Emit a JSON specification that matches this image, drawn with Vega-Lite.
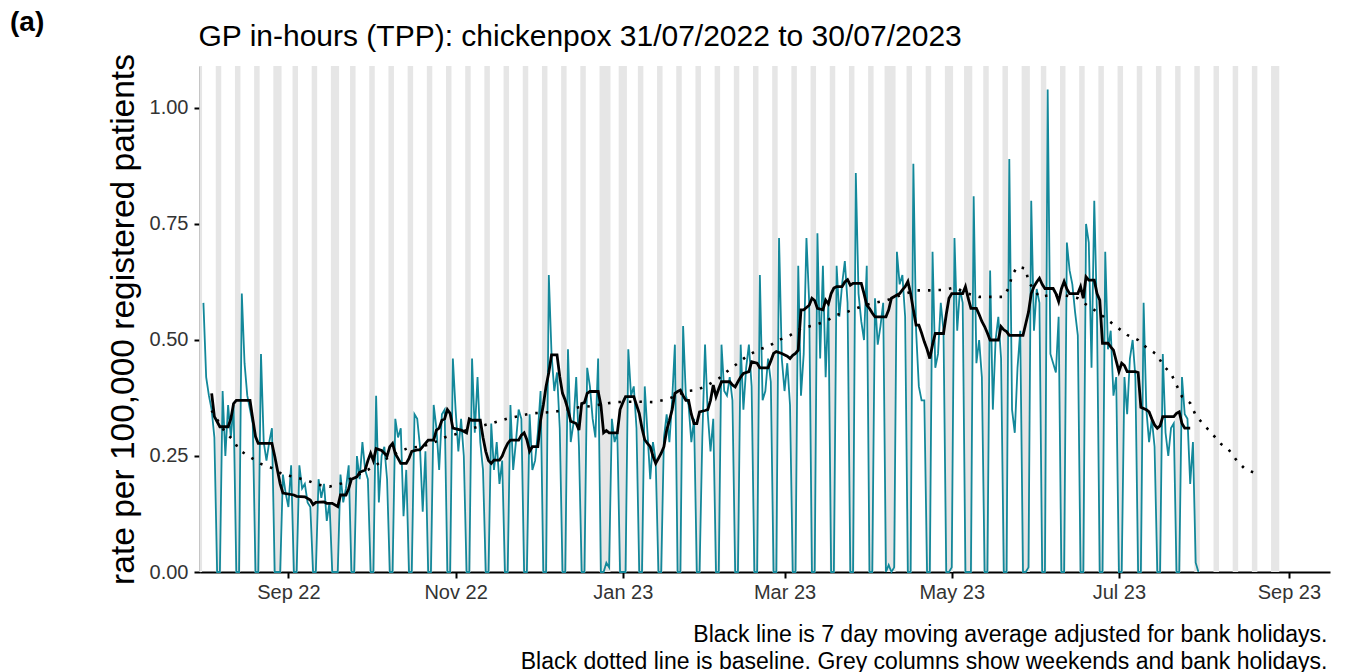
{
"$schema": "https://vega.github.io/schema/vega-lite/v6.json",
"width": 1130, "height": 506,
"autosize": {"type": "none"},
"padding": {"left": 200, "top": 66, "right": 37, "bottom": 100},
"background": "white",
"config": {"font": "Liberation Sans", "view": {"stroke": null}, "axis": {"grid": false},
"axisY": {"titleFontSize": 33.5, "titleFontWeight": "normal", "titleColor": "#000000", "titlePadding": 9, "labelFontSize": 20, "labelColor": "#333333", "labelPadding": 6, "tickSize": 6, "tickWidth": 2, "tickColor": "#000000", "domainColor": "#000000", "domainWidth": 2, "grid": false}},
"title": {"text": "(a)", "anchor": "start", "frame": "group", "dx": -190, "dy": 20, "fontSize": 28, "fontWeight": "bold", "color": "#000000"},
"datasets": {
"daily": [
{"date":"2022-08-01","rate":0.58},{"date":"2022-08-02","rate":0.42},{"date":"2022-08-03","rate":0.38},{"date":"2022-08-04","rate":0.35},{"date":"2022-08-05","rate":0.29},{"date":"2022-08-06","rate":0},{"date":"2022-08-07","rate":0},
{"date":"2022-08-08","rate":0.39},{"date":"2022-08-09","rate":0.25},{"date":"2022-08-10","rate":0.36},{"date":"2022-08-11","rate":0.29},{"date":"2022-08-12","rate":0.36},{"date":"2022-08-13","rate":0},{"date":"2022-08-14","rate":0},
{"date":"2022-08-15","rate":0.60},{"date":"2022-08-16","rate":0.45},{"date":"2022-08-17","rate":0.38},{"date":"2022-08-18","rate":0.35},{"date":"2022-08-19","rate":0.32},{"date":"2022-08-20","rate":0},{"date":"2022-08-21","rate":0},
{"date":"2022-08-22","rate":0.47},{"date":"2022-08-23","rate":0.28},{"date":"2022-08-24","rate":0.24},{"date":"2022-08-25","rate":0.28},{"date":"2022-08-26","rate":0.31},{"date":"2022-08-27","rate":0},{"date":"2022-08-28","rate":0},
{"date":"2022-08-29","rate":0},{"date":"2022-08-30","rate":0.21},{"date":"2022-08-31","rate":0.17},{"date":"2022-09-01","rate":0.14},{"date":"2022-09-02","rate":0.23},{"date":"2022-09-03","rate":0},{"date":"2022-09-04","rate":0},
{"date":"2022-09-05","rate":0.23},{"date":"2022-09-06","rate":0.18},{"date":"2022-09-07","rate":0.19},{"date":"2022-09-08","rate":0.15},{"date":"2022-09-09","rate":0.14},{"date":"2022-09-10","rate":0},{"date":"2022-09-11","rate":0},
{"date":"2022-09-12","rate":0.20},{"date":"2022-09-13","rate":0.16},{"date":"2022-09-14","rate":0.19},{"date":"2022-09-15","rate":0.11},{"date":"2022-09-16","rate":0.15},{"date":"2022-09-17","rate":0},{"date":"2022-09-18","rate":0},
{"date":"2022-09-19","rate":0},{"date":"2022-09-20","rate":0.21},{"date":"2022-09-21","rate":0.15},{"date":"2022-09-22","rate":0.18},{"date":"2022-09-23","rate":0.23},{"date":"2022-09-24","rate":0},{"date":"2022-09-25","rate":0},
{"date":"2022-09-26","rate":0.25},{"date":"2022-09-27","rate":0.20},{"date":"2022-09-28","rate":0.28},{"date":"2022-09-29","rate":0.22},{"date":"2022-09-30","rate":0.20},{"date":"2022-10-01","rate":0},{"date":"2022-10-02","rate":0},
{"date":"2022-10-03","rate":0.38},{"date":"2022-10-04","rate":0.15},{"date":"2022-10-05","rate":0.25},{"date":"2022-10-06","rate":0.27},{"date":"2022-10-07","rate":0.20},{"date":"2022-10-08","rate":0},{"date":"2022-10-09","rate":0},
{"date":"2022-10-10","rate":0.33},{"date":"2022-10-11","rate":0.29},{"date":"2022-10-12","rate":0.31},{"date":"2022-10-13","rate":0.12},{"date":"2022-10-14","rate":0.22},{"date":"2022-10-15","rate":0},{"date":"2022-10-16","rate":0},
{"date":"2022-10-17","rate":0.34},{"date":"2022-10-18","rate":0.33},{"date":"2022-10-19","rate":0.27},{"date":"2022-10-20","rate":0.13},{"date":"2022-10-21","rate":0.26},{"date":"2022-10-22","rate":0},{"date":"2022-10-23","rate":0},
{"date":"2022-10-24","rate":0.36},{"date":"2022-10-25","rate":0.31},{"date":"2022-10-26","rate":0.22},{"date":"2022-10-27","rate":0.34},{"date":"2022-10-28","rate":0.35},{"date":"2022-10-29","rate":0},{"date":"2022-10-30","rate":0},
{"date":"2022-10-31","rate":0.46},{"date":"2022-11-01","rate":0.35},{"date":"2022-11-02","rate":0.26},{"date":"2022-11-03","rate":0.33},{"date":"2022-11-04","rate":0.25},{"date":"2022-11-05","rate":0},{"date":"2022-11-06","rate":0},
{"date":"2022-11-07","rate":0.46},{"date":"2022-11-08","rate":0.30},{"date":"2022-11-09","rate":0.42},{"date":"2022-11-10","rate":0.28},{"date":"2022-11-11","rate":0.22},{"date":"2022-11-12","rate":0},{"date":"2022-11-13","rate":0},
{"date":"2022-11-14","rate":0.32},{"date":"2022-11-15","rate":0.22},{"date":"2022-11-16","rate":0.28},{"date":"2022-11-17","rate":0.19},{"date":"2022-11-18","rate":0.24},{"date":"2022-11-19","rate":0},{"date":"2022-11-20","rate":0},
{"date":"2022-11-21","rate":0.36},{"date":"2022-11-22","rate":0.22},{"date":"2022-11-23","rate":0.28},{"date":"2022-11-24","rate":0.35},{"date":"2022-11-25","rate":0.33},{"date":"2022-11-26","rate":0},{"date":"2022-11-27","rate":0},
{"date":"2022-11-28","rate":0.34},{"date":"2022-11-29","rate":0.22},{"date":"2022-11-30","rate":0.24},{"date":"2022-12-01","rate":0.30},{"date":"2022-12-02","rate":0.39},{"date":"2022-12-03","rate":0},{"date":"2022-12-04","rate":0},
{"date":"2022-12-05","rate":0.64},{"date":"2022-12-06","rate":0.47},{"date":"2022-12-07","rate":0.39},{"date":"2022-12-08","rate":0.43},{"date":"2022-12-09","rate":0.31},{"date":"2022-12-10","rate":0},{"date":"2022-12-11","rate":0},
{"date":"2022-12-12","rate":0.48},{"date":"2022-12-13","rate":0.28},{"date":"2022-12-14","rate":0.32},{"date":"2022-12-15","rate":0.42},{"date":"2022-12-16","rate":0.27},{"date":"2022-12-17","rate":0},{"date":"2022-12-18","rate":0},
{"date":"2022-12-19","rate":0.44},{"date":"2022-12-20","rate":0.40},{"date":"2022-12-21","rate":0.33},{"date":"2022-12-22","rate":0.29},{"date":"2022-12-23","rate":0.46},{"date":"2022-12-24","rate":0},{"date":"2022-12-25","rate":0},
{"date":"2022-12-26","rate":0.02},{"date":"2022-12-27","rate":0.01},{"date":"2022-12-28","rate":0.33},{"date":"2022-12-29","rate":0.28},{"date":"2022-12-30","rate":0.30},{"date":"2022-12-31","rate":0},{"date":"2023-01-01","rate":0},
{"date":"2023-01-02","rate":0},{"date":"2023-01-03","rate":0.48},{"date":"2023-01-04","rate":0.38},{"date":"2023-01-05","rate":0.40},{"date":"2023-01-06","rate":0.31},{"date":"2023-01-07","rate":0},{"date":"2023-01-08","rate":0},
{"date":"2023-01-09","rate":0.40},{"date":"2023-01-10","rate":0.30},{"date":"2023-01-11","rate":0.20},{"date":"2023-01-12","rate":0.28},{"date":"2023-01-13","rate":0.24},{"date":"2023-01-14","rate":0},{"date":"2023-01-15","rate":0},
{"date":"2023-01-16","rate":0.29},{"date":"2023-01-17","rate":0.34},{"date":"2023-01-18","rate":0.28},{"date":"2023-01-19","rate":0.37},{"date":"2023-01-20","rate":0.49},{"date":"2023-01-21","rate":0},{"date":"2023-01-22","rate":0},
{"date":"2023-01-23","rate":0.53},{"date":"2023-01-24","rate":0.38},{"date":"2023-01-25","rate":0.36},{"date":"2023-01-26","rate":0.28},{"date":"2023-01-27","rate":0.33},{"date":"2023-01-28","rate":0},{"date":"2023-01-29","rate":0},
{"date":"2023-01-30","rate":0.29},{"date":"2023-01-31","rate":0.49},{"date":"2023-02-01","rate":0.34},{"date":"2023-02-02","rate":0.26},{"date":"2023-02-03","rate":0.33},{"date":"2023-02-04","rate":0},{"date":"2023-02-05","rate":0},
{"date":"2023-02-06","rate":0.49},{"date":"2023-02-07","rate":0.39},{"date":"2023-02-08","rate":0.38},{"date":"2023-02-09","rate":0.42},{"date":"2023-02-10","rate":0.37},{"date":"2023-02-11","rate":0},{"date":"2023-02-12","rate":0},
{"date":"2023-02-13","rate":0.49},{"date":"2023-02-14","rate":0.35},{"date":"2023-02-15","rate":0.44},{"date":"2023-02-16","rate":0.49},{"date":"2023-02-17","rate":0.40},{"date":"2023-02-18","rate":0},{"date":"2023-02-19","rate":0},
{"date":"2023-02-20","rate":0.64},{"date":"2023-02-21","rate":0.37},{"date":"2023-02-22","rate":0.39},{"date":"2023-02-23","rate":0.46},{"date":"2023-02-24","rate":0.41},{"date":"2023-02-25","rate":0},{"date":"2023-02-26","rate":0},
{"date":"2023-02-27","rate":0.72},{"date":"2023-02-28","rate":0.46},{"date":"2023-03-01","rate":0.39},{"date":"2023-03-02","rate":0.45},{"date":"2023-03-03","rate":0.36},{"date":"2023-03-04","rate":0},{"date":"2023-03-05","rate":0},
{"date":"2023-03-06","rate":0.66},{"date":"2023-03-07","rate":0.38},{"date":"2023-03-08","rate":0.47},{"date":"2023-03-09","rate":0.72},{"date":"2023-03-10","rate":0.58},{"date":"2023-03-11","rate":0},{"date":"2023-03-12","rate":0},
{"date":"2023-03-13","rate":0.73},{"date":"2023-03-14","rate":0.46},{"date":"2023-03-15","rate":0.66},{"date":"2023-03-16","rate":0.42},{"date":"2023-03-17","rate":0.58},{"date":"2023-03-18","rate":0},{"date":"2023-03-19","rate":0},
{"date":"2023-03-20","rate":0.66},{"date":"2023-03-21","rate":0.55},{"date":"2023-03-22","rate":0.62},{"date":"2023-03-23","rate":0.67},{"date":"2023-03-24","rate":0.58},{"date":"2023-03-25","rate":0},{"date":"2023-03-26","rate":0},
{"date":"2023-03-27","rate":0.86},{"date":"2023-03-28","rate":0.60},{"date":"2023-03-29","rate":0.54},{"date":"2023-03-30","rate":0.50},{"date":"2023-03-31","rate":0.66},{"date":"2023-04-01","rate":0},{"date":"2023-04-02","rate":0},
{"date":"2023-04-03","rate":0.59},{"date":"2023-04-04","rate":0.49},{"date":"2023-04-05","rate":0.53},{"date":"2023-04-06","rate":0.58},{"date":"2023-04-07","rate":0},{"date":"2023-04-08","rate":0.015},{"date":"2023-04-09","rate":0},
{"date":"2023-04-10","rate":0.01},{"date":"2023-04-11","rate":0.69},{"date":"2023-04-12","rate":0.62},{"date":"2023-04-13","rate":0.64},{"date":"2023-04-14","rate":0.55},{"date":"2023-04-15","rate":0},{"date":"2023-04-16","rate":0},
{"date":"2023-04-17","rate":0.88},{"date":"2023-04-18","rate":0.52},{"date":"2023-04-19","rate":0.40},{"date":"2023-04-20","rate":0.37},{"date":"2023-04-21","rate":0.37},{"date":"2023-04-22","rate":0},{"date":"2023-04-23","rate":0},
{"date":"2023-04-24","rate":0.69},{"date":"2023-04-25","rate":0.44},{"date":"2023-04-26","rate":0.47},{"date":"2023-04-27","rate":0.58},{"date":"2023-04-28","rate":0.52},{"date":"2023-04-29","rate":0},{"date":"2023-04-30","rate":0},
{"date":"2023-05-01","rate":0.01},{"date":"2023-05-02","rate":0.72},{"date":"2023-05-03","rate":0.52},{"date":"2023-05-04","rate":0.61},{"date":"2023-05-05","rate":0.58},{"date":"2023-05-06","rate":0},{"date":"2023-05-07","rate":0},
{"date":"2023-05-08","rate":0},{"date":"2023-05-09","rate":0.81},{"date":"2023-05-10","rate":0.45},{"date":"2023-05-11","rate":0.50},{"date":"2023-05-12","rate":0.42},{"date":"2023-05-13","rate":0},{"date":"2023-05-14","rate":0},
{"date":"2023-05-15","rate":0.65},{"date":"2023-05-16","rate":0.35},{"date":"2023-05-17","rate":0.50},{"date":"2023-05-18","rate":0.55},{"date":"2023-05-19","rate":0.46},{"date":"2023-05-20","rate":0},{"date":"2023-05-21","rate":0},
{"date":"2023-05-22","rate":0.89},{"date":"2023-05-23","rate":0.35},{"date":"2023-05-24","rate":0.30},{"date":"2023-05-25","rate":0.44},{"date":"2023-05-26","rate":0.52},{"date":"2023-05-27","rate":0},{"date":"2023-05-28","rate":0},
{"date":"2023-05-29","rate":0.01},{"date":"2023-05-30","rate":0.80},{"date":"2023-05-31","rate":0.52},{"date":"2023-06-01","rate":0.61},{"date":"2023-06-02","rate":0.58},{"date":"2023-06-03","rate":0},{"date":"2023-06-04","rate":0},
{"date":"2023-06-05","rate":1.04},{"date":"2023-06-06","rate":0.47},{"date":"2023-06-07","rate":0.45},{"date":"2023-06-08","rate":0.43},{"date":"2023-06-09","rate":0.55},{"date":"2023-06-10","rate":0},{"date":"2023-06-11","rate":0},
{"date":"2023-06-12","rate":0.71},{"date":"2023-06-13","rate":0.65},{"date":"2023-06-14","rate":0.62},{"date":"2023-06-15","rate":0.56},{"date":"2023-06-16","rate":0.51},{"date":"2023-06-17","rate":0},{"date":"2023-06-18","rate":0},
{"date":"2023-06-19","rate":0.75},{"date":"2023-06-20","rate":0.71},{"date":"2023-06-21","rate":0.44},{"date":"2023-06-22","rate":0.80},{"date":"2023-06-23","rate":0.55},{"date":"2023-06-24","rate":0},{"date":"2023-06-25","rate":0},
{"date":"2023-06-26","rate":0.69},{"date":"2023-06-27","rate":0.48},{"date":"2023-06-28","rate":0.52},{"date":"2023-06-29","rate":0.38},{"date":"2023-06-30","rate":0.42},{"date":"2023-07-01","rate":0},{"date":"2023-07-02","rate":0},
{"date":"2023-07-03","rate":0.42},{"date":"2023-07-04","rate":0.34},{"date":"2023-07-05","rate":0.46},{"date":"2023-07-06","rate":0.50},{"date":"2023-07-07","rate":0.42},{"date":"2023-07-08","rate":0},{"date":"2023-07-09","rate":0},
{"date":"2023-07-10","rate":0.58},{"date":"2023-07-11","rate":0.35},{"date":"2023-07-12","rate":0.28},{"date":"2023-07-13","rate":0.33},{"date":"2023-07-14","rate":0.27},{"date":"2023-07-15","rate":0},{"date":"2023-07-16","rate":0},
{"date":"2023-07-17","rate":0.47},{"date":"2023-07-18","rate":0.30},{"date":"2023-07-19","rate":0.25},{"date":"2023-07-20","rate":0.31},{"date":"2023-07-21","rate":0.32},{"date":"2023-07-22","rate":0},{"date":"2023-07-23","rate":0},
{"date":"2023-07-24","rate":0.42},{"date":"2023-07-25","rate":0.34},{"date":"2023-07-26","rate":0.33},{"date":"2023-07-27","rate":0.19},{"date":"2023-07-28","rate":0.28},{"date":"2023-07-29","rate":0.02},{"date":"2023-07-30","rate":0}
],
"ma": [
{"date":"2022-08-04","ma":0.385},{"date":"2022-08-05","ma":0.335},{"date":"2022-08-07","ma":0.313},{"date":"2022-08-10","ma":0.313},{"date":"2022-08-11","ma":0.33},{"date":"2022-08-12","ma":0.363},{"date":"2022-08-13","ma":0.37},{"date":"2022-08-18","ma":0.37},{"date":"2022-08-19","ma":0.33},{"date":"2022-08-20","ma":0.292},{"date":"2022-08-21","ma":0.277},{"date":"2022-08-26","ma":0.277},{"date":"2022-08-27","ma":0.25},{"date":"2022-08-28","ma":0.22},{"date":"2022-08-29","ma":0.19},{"date":"2022-08-30","ma":0.17},
{"date":"2022-09-03","ma":0.166},{"date":"2022-09-04","ma":0.163},{"date":"2022-09-07","ma":0.162},{"date":"2022-09-09","ma":0.155},{"date":"2022-09-10","ma":0.145},{"date":"2022-09-11","ma":0.15},{"date":"2022-09-14","ma":0.151},{"date":"2022-09-15","ma":0.148},{"date":"2022-09-17","ma":0.148},{"date":"2022-09-19","ma":0.141},{"date":"2022-09-20","ma":0.166},{"date":"2022-09-22","ma":0.166},{"date":"2022-09-23","ma":0.18},{"date":"2022-09-24","ma":0.2},{"date":"2022-09-26","ma":0.205},{"date":"2022-09-27","ma":0.215},{"date":"2022-09-29","ma":0.22},{"date":"2022-09-30","ma":0.24},
{"date":"2022-10-01","ma":0.256},{"date":"2022-10-02","ma":0.24},{"date":"2022-10-03","ma":0.266},{"date":"2022-10-05","ma":0.262},{"date":"2022-10-07","ma":0.25},{"date":"2022-10-08","ma":0.27},{"date":"2022-10-09","ma":0.277},{"date":"2022-10-10","ma":0.255},{"date":"2022-10-11","ma":0.245},{"date":"2022-10-12","ma":0.234},{"date":"2022-10-14","ma":0.234},{"date":"2022-10-15","ma":0.245},{"date":"2022-10-16","ma":0.26},{"date":"2022-10-18","ma":0.263},{"date":"2022-10-19","ma":0.263},{"date":"2022-10-20","ma":0.27},{"date":"2022-10-21","ma":0.277},{"date":"2022-10-22","ma":0.284},{"date":"2022-10-24","ma":0.284},{"date":"2022-10-25","ma":0.306},{"date":"2022-10-26","ma":0.31},{"date":"2022-10-27","ma":0.327},{"date":"2022-10-28","ma":0.33},{"date":"2022-10-29","ma":0.35},{"date":"2022-10-30","ma":0.342},{"date":"2022-10-31","ma":0.31},
{"date":"2022-11-03","ma":0.306},{"date":"2022-11-05","ma":0.30},{"date":"2022-11-06","ma":0.33},{"date":"2022-11-07","ma":0.327},{"date":"2022-11-10","ma":0.327},{"date":"2022-11-11","ma":0.29},{"date":"2022-11-12","ma":0.26},{"date":"2022-11-13","ma":0.24},{"date":"2022-11-14","ma":0.234},{"date":"2022-11-15","ma":0.241},{"date":"2022-11-17","ma":0.241},{"date":"2022-11-18","ma":0.25},{"date":"2022-11-19","ma":0.265},{"date":"2022-11-20","ma":0.277},{"date":"2022-11-21","ma":0.284},{"date":"2022-11-24","ma":0.284},{"date":"2022-11-25","ma":0.295},{"date":"2022-11-26","ma":0.30},{"date":"2022-11-27","ma":0.285},{"date":"2022-11-28","ma":0.26},{"date":"2022-11-29","ma":0.27},
{"date":"2022-12-01","ma":0.27},{"date":"2022-12-02","ma":0.327},{"date":"2022-12-03","ma":0.36},{"date":"2022-12-04","ma":0.40},{"date":"2022-12-05","ma":0.43},{"date":"2022-12-06","ma":0.468},{"date":"2022-12-08","ma":0.468},{"date":"2022-12-09","ma":0.421},{"date":"2022-12-10","ma":0.385},{"date":"2022-12-11","ma":0.37},{"date":"2022-12-12","ma":0.35},{"date":"2022-12-13","ma":0.325},{"date":"2022-12-15","ma":0.32},{"date":"2022-12-16","ma":0.306},{"date":"2022-12-17","ma":0.363},{"date":"2022-12-18","ma":0.365},{"date":"2022-12-19","ma":0.385},{"date":"2022-12-20","ma":0.389},{"date":"2022-12-23","ma":0.389},{"date":"2022-12-24","ma":0.36},{"date":"2022-12-25","ma":0.30},{"date":"2022-12-26","ma":0.305},{"date":"2022-12-27","ma":0.30},{"date":"2022-12-30","ma":0.30},{"date":"2022-12-31","ma":0.35},
{"date":"2023-01-01","ma":0.365},{"date":"2023-01-02","ma":0.378},{"date":"2023-01-05","ma":0.378},{"date":"2023-01-06","ma":0.36},{"date":"2023-01-07","ma":0.342},{"date":"2023-01-08","ma":0.31},{"date":"2023-01-09","ma":0.285},{"date":"2023-01-10","ma":0.277},{"date":"2023-01-11","ma":0.27},{"date":"2023-01-12","ma":0.25},{"date":"2023-01-13","ma":0.234},{"date":"2023-01-14","ma":0.245},{"date":"2023-01-15","ma":0.256},{"date":"2023-01-16","ma":0.27},{"date":"2023-01-17","ma":0.306},{"date":"2023-01-18","ma":0.327},{"date":"2023-01-19","ma":0.35},{"date":"2023-01-20","ma":0.385},{"date":"2023-01-21","ma":0.389},{"date":"2023-01-22","ma":0.392},{"date":"2023-01-23","ma":0.38},{"date":"2023-01-24","ma":0.37},{"date":"2023-01-25","ma":0.37},{"date":"2023-01-26","ma":0.34},{"date":"2023-01-27","ma":0.32},{"date":"2023-01-28","ma":0.32},{"date":"2023-01-29","ma":0.345},{"date":"2023-01-31","ma":0.348},
{"date":"2023-02-01","ma":0.35},{"date":"2023-02-02","ma":0.37},{"date":"2023-02-03","ma":0.403},{"date":"2023-02-04","ma":0.378},{"date":"2023-02-05","ma":0.395},{"date":"2023-02-06","ma":0.41},{"date":"2023-02-09","ma":0.41},{"date":"2023-02-10","ma":0.403},{"date":"2023-02-11","ma":0.399},{"date":"2023-02-12","ma":0.41},{"date":"2023-02-13","ma":0.42},{"date":"2023-02-14","ma":0.428},{"date":"2023-02-16","ma":0.432},{"date":"2023-02-17","ma":0.453},{"date":"2023-02-19","ma":0.45},{"date":"2023-02-20","ma":0.44},{"date":"2023-02-23","ma":0.44},{"date":"2023-02-24","ma":0.455},{"date":"2023-02-25","ma":0.471},{"date":"2023-02-26","ma":0.475},{"date":"2023-02-28","ma":0.471},
{"date":"2023-03-02","ma":0.465},{"date":"2023-03-03","ma":0.46},{"date":"2023-03-04","ma":0.467},{"date":"2023-03-05","ma":0.471},{"date":"2023-03-06","ma":0.478},{"date":"2023-03-07","ma":0.565},{"date":"2023-03-08","ma":0.565},{"date":"2023-03-10","ma":0.575},{"date":"2023-03-11","ma":0.59},{"date":"2023-03-12","ma":0.585},{"date":"2023-03-13","ma":0.568},{"date":"2023-03-15","ma":0.565},{"date":"2023-03-16","ma":0.586},{"date":"2023-03-17","ma":0.578},{"date":"2023-03-18","ma":0.60},{"date":"2023-03-19","ma":0.612},{"date":"2023-03-20","ma":0.615},{"date":"2023-03-22","ma":0.615},{"date":"2023-03-23","ma":0.625},{"date":"2023-03-24","ma":0.63},{"date":"2023-03-25","ma":0.618},{"date":"2023-03-26","ma":0.622},{"date":"2023-03-29","ma":0.622},{"date":"2023-03-30","ma":0.60},{"date":"2023-03-31","ma":0.575},
{"date":"2023-04-01","ma":0.568},{"date":"2023-04-02","ma":0.558},{"date":"2023-04-03","ma":0.55},{"date":"2023-04-07","ma":0.55},{"date":"2023-04-08","ma":0.565},{"date":"2023-04-09","ma":0.59},{"date":"2023-04-11","ma":0.597},{"date":"2023-04-12","ma":0.60},{"date":"2023-04-13","ma":0.608},{"date":"2023-04-14","ma":0.615},{"date":"2023-04-15","ma":0.626},{"date":"2023-04-16","ma":0.60},{"date":"2023-04-17","ma":0.565},{"date":"2023-04-18","ma":0.532},{"date":"2023-04-19","ma":0.532},{"date":"2023-04-20","ma":0.515},{"date":"2023-04-21","ma":0.496},{"date":"2023-04-22","ma":0.48},{"date":"2023-04-23","ma":0.46},{"date":"2023-04-24","ma":0.49},{"date":"2023-04-25","ma":0.514},{"date":"2023-04-28","ma":0.514},{"date":"2023-04-29","ma":0.555},{"date":"2023-04-30","ma":0.59},
{"date":"2023-05-01","ma":0.60},{"date":"2023-05-05","ma":0.60},{"date":"2023-05-06","ma":0.615},{"date":"2023-05-07","ma":0.59},{"date":"2023-05-08","ma":0.568},{"date":"2023-05-10","ma":0.568},{"date":"2023-05-11","ma":0.555},{"date":"2023-05-12","ma":0.54},{"date":"2023-05-13","ma":0.529},{"date":"2023-05-14","ma":0.515},{"date":"2023-05-15","ma":0.50},{"date":"2023-05-18","ma":0.50},{"date":"2023-05-19","ma":0.529},{"date":"2023-05-20","ma":0.522},{"date":"2023-05-21","ma":0.518},{"date":"2023-05-22","ma":0.51},{"date":"2023-05-27","ma":0.51},{"date":"2023-05-28","ma":0.535},{"date":"2023-05-29","ma":0.56},{"date":"2023-05-30","ma":0.60},{"date":"2023-05-31","ma":0.615},
{"date":"2023-06-01","ma":0.625},{"date":"2023-06-02","ma":0.633},{"date":"2023-06-03","ma":0.62},{"date":"2023-06-04","ma":0.611},{"date":"2023-06-07","ma":0.611},{"date":"2023-06-08","ma":0.60},{"date":"2023-06-09","ma":0.583},{"date":"2023-06-10","ma":0.61},{"date":"2023-06-11","ma":0.626},{"date":"2023-06-12","ma":0.61},{"date":"2023-06-13","ma":0.60},{"date":"2023-06-16","ma":0.60},{"date":"2023-06-17","ma":0.615},{"date":"2023-06-18","ma":0.59},{"date":"2023-06-19","ma":0.636},{"date":"2023-06-20","ma":0.629},{"date":"2023-06-22","ma":0.629},{"date":"2023-06-23","ma":0.60},{"date":"2023-06-24","ma":0.586},{"date":"2023-06-25","ma":0.493},{"date":"2023-06-27","ma":0.493},{"date":"2023-06-28","ma":0.485},{"date":"2023-06-29","ma":0.478},{"date":"2023-06-30","ma":0.455},
{"date":"2023-07-01","ma":0.432},{"date":"2023-07-02","ma":0.45},{"date":"2023-07-03","ma":0.445},{"date":"2023-07-04","ma":0.432},{"date":"2023-07-07","ma":0.432},{"date":"2023-07-08","ma":0.43},{"date":"2023-07-09","ma":0.355},{"date":"2023-07-11","ma":0.35},{"date":"2023-07-12","ma":0.345},{"date":"2023-07-13","ma":0.33},{"date":"2023-07-14","ma":0.317},{"date":"2023-07-15","ma":0.31},{"date":"2023-07-16","ma":0.315},{"date":"2023-07-17","ma":0.335},{"date":"2023-07-21","ma":0.335},{"date":"2023-07-22","ma":0.342},{"date":"2023-07-23","ma":0.345},{"date":"2023-07-24","ma":0.32},{"date":"2023-07-25","ma":0.31},{"date":"2023-07-27","ma":0.31}
],
"baseline": [
{"date":"2022-08-04","baseline":0.348},{"date":"2022-08-09","baseline":0.30},{"date":"2022-08-12","baseline":0.284},{"date":"2022-08-14","baseline":0.263},{"date":"2022-08-18","baseline":0.248},{"date":"2022-08-22","baseline":0.233},{"date":"2022-08-26","baseline":0.224},{"date":"2022-08-30","baseline":0.21},{"date":"2022-09-03","baseline":0.205},{"date":"2022-09-08","baseline":0.197},{"date":"2022-09-12","baseline":0.188},{"date":"2022-09-16","baseline":0.184},{"date":"2022-09-20","baseline":0.19},{"date":"2022-09-25","baseline":0.205},{"date":"2022-09-30","baseline":0.22},
{"date":"2022-10-05","baseline":0.238},{"date":"2022-10-10","baseline":0.255},{"date":"2022-10-15","baseline":0.268},{"date":"2022-10-19","baseline":0.27},{"date":"2022-10-23","baseline":0.276},{"date":"2022-10-28","baseline":0.29},{"date":"2022-11-01","baseline":0.297},{"date":"2022-11-06","baseline":0.308},{"date":"2022-11-15","baseline":0.322},{"date":"2022-11-20","baseline":0.331},{"date":"2022-11-24","baseline":0.336},{"date":"2022-11-29","baseline":0.342},{"date":"2022-12-07","baseline":0.345},{"date":"2022-12-16","baseline":0.355},{"date":"2022-12-21","baseline":0.358},{"date":"2022-12-25","baseline":0.362},{"date":"2022-12-29","baseline":0.366},
{"date":"2023-01-03","baseline":0.367},{"date":"2023-01-07","baseline":0.367},{"date":"2023-01-12","baseline":0.366},{"date":"2023-01-17","baseline":0.372},{"date":"2023-01-21","baseline":0.381},{"date":"2023-01-24","baseline":0.39},{"date":"2023-01-28","baseline":0.392},{"date":"2023-02-01","baseline":0.403},{"date":"2023-02-05","baseline":0.417},{"date":"2023-02-08","baseline":0.432},{"date":"2023-02-12","baseline":0.45},{"date":"2023-02-15","baseline":0.464},{"date":"2023-02-19","baseline":0.478},{"date":"2023-02-23","baseline":0.486},{"date":"2023-02-27","baseline":0.50},
{"date":"2023-03-03","baseline":0.51},{"date":"2023-03-07","baseline":0.525},{"date":"2023-03-12","baseline":0.532},{"date":"2023-03-16","baseline":0.54},{"date":"2023-03-20","baseline":0.554},{"date":"2023-03-24","baseline":0.561},{"date":"2023-03-29","baseline":0.572},{"date":"2023-04-02","baseline":0.579},{"date":"2023-04-07","baseline":0.585},{"date":"2023-04-14","baseline":0.60},{"date":"2023-04-18","baseline":0.607},{"date":"2023-04-23","baseline":0.607},{"date":"2023-04-28","baseline":0.608},{"date":"2023-05-02","baseline":0.613},{"date":"2023-05-07","baseline":0.60},{"date":"2023-05-11","baseline":0.593},{"date":"2023-05-16","baseline":0.593},{"date":"2023-05-20","baseline":0.593},{"date":"2023-05-22","baseline":0.615},{"date":"2023-05-23","baseline":0.64},{"date":"2023-05-25","baseline":0.658},{"date":"2023-05-28","baseline":0.654},{"date":"2023-05-29","baseline":0.625},
{"date":"2023-06-02","baseline":0.593},{"date":"2023-06-06","baseline":0.597},{"date":"2023-06-11","baseline":0.597},{"date":"2023-06-16","baseline":0.59},{"date":"2023-06-20","baseline":0.572},{"date":"2023-06-23","baseline":0.561},{"date":"2023-06-27","baseline":0.543},{"date":"2023-06-30","baseline":0.529},{"date":"2023-07-04","baseline":0.511},{"date":"2023-07-08","baseline":0.50},{"date":"2023-07-11","baseline":0.484},{"date":"2023-07-15","baseline":0.468},{"date":"2023-07-17","baseline":0.446},{"date":"2023-07-20","baseline":0.428},{"date":"2023-07-22","baseline":0.403},{"date":"2023-07-24","baseline":0.378},{"date":"2023-07-27","baseline":0.364},{"date":"2023-07-29","baseline":0.338},
{"date":"2023-08-01","baseline":0.317},{"date":"2023-08-04","baseline":0.298},{"date":"2023-08-07","baseline":0.277},{"date":"2023-08-10","baseline":0.264},{"date":"2023-08-13","baseline":0.24},{"date":"2023-08-16","baseline":0.222},{"date":"2023-08-21","baseline":0.21}
]
},
"layer": [
{
"data": {"values": [
{"start":"2022-07-30T12:00Z","end":"2022-07-31T12:00Z"},{"start":"2022-08-05T12:00Z","end":"2022-08-07T12:00Z"},{"start":"2022-08-12T12:00Z","end":"2022-08-14T12:00Z"},{"start":"2022-08-19T12:00Z","end":"2022-08-21T12:00Z"},{"start":"2022-08-26T12:00Z","end":"2022-08-29T12:00Z"},{"start":"2022-09-02T12:00Z","end":"2022-09-04T12:00Z"},{"start":"2022-09-09T12:00Z","end":"2022-09-11T12:00Z"},{"start":"2022-09-16T12:00Z","end":"2022-09-19T12:00Z"},{"start":"2022-09-23T12:00Z","end":"2022-09-25T12:00Z"},{"start":"2022-09-30T12:00Z","end":"2022-10-02T12:00Z"},
{"start":"2022-10-07T12:00Z","end":"2022-10-09T12:00Z"},{"start":"2022-10-14T12:00Z","end":"2022-10-16T12:00Z"},{"start":"2022-10-21T12:00Z","end":"2022-10-23T12:00Z"},{"start":"2022-10-28T12:00Z","end":"2022-10-30T12:00Z"},{"start":"2022-11-04T12:00Z","end":"2022-11-06T12:00Z"},{"start":"2022-11-11T12:00Z","end":"2022-11-13T12:00Z"},{"start":"2022-11-18T12:00Z","end":"2022-11-20T12:00Z"},{"start":"2022-11-25T12:00Z","end":"2022-11-27T12:00Z"},{"start":"2022-12-02T12:00Z","end":"2022-12-04T12:00Z"},{"start":"2022-12-09T12:00Z","end":"2022-12-11T12:00Z"},{"start":"2022-12-16T12:00Z","end":"2022-12-18T12:00Z"},{"start":"2022-12-23T12:00Z","end":"2022-12-27T12:00Z"},{"start":"2022-12-30T12:00Z","end":"2023-01-02T12:00Z"},
{"start":"2023-01-06T12:00Z","end":"2023-01-08T12:00Z"},{"start":"2023-01-13T12:00Z","end":"2023-01-15T12:00Z"},{"start":"2023-01-20T12:00Z","end":"2023-01-22T12:00Z"},{"start":"2023-01-27T12:00Z","end":"2023-01-29T12:00Z"},{"start":"2023-02-03T12:00Z","end":"2023-02-05T12:00Z"},{"start":"2023-02-10T12:00Z","end":"2023-02-12T12:00Z"},{"start":"2023-02-17T12:00Z","end":"2023-02-19T12:00Z"},{"start":"2023-02-24T12:00Z","end":"2023-02-26T12:00Z"},{"start":"2023-03-03T12:00Z","end":"2023-03-05T12:00Z"},{"start":"2023-03-10T12:00Z","end":"2023-03-12T12:00Z"},{"start":"2023-03-17T12:00Z","end":"2023-03-19T12:00Z"},{"start":"2023-03-24T12:00Z","end":"2023-03-26T12:00Z"},{"start":"2023-03-31T12:00Z","end":"2023-04-02T12:00Z"},
{"start":"2023-04-06T12:00Z","end":"2023-04-10T12:00Z"},{"start":"2023-04-14T12:00Z","end":"2023-04-16T12:00Z"},{"start":"2023-04-21T12:00Z","end":"2023-04-23T12:00Z"},{"start":"2023-04-28T12:00Z","end":"2023-05-01T12:00Z"},{"start":"2023-05-05T12:00Z","end":"2023-05-08T12:00Z"},{"start":"2023-05-12T12:00Z","end":"2023-05-14T12:00Z"},{"start":"2023-05-19T12:00Z","end":"2023-05-21T12:00Z"},{"start":"2023-05-26T12:00Z","end":"2023-05-29T12:00Z"},{"start":"2023-06-02T12:00Z","end":"2023-06-04T12:00Z"},{"start":"2023-06-09T12:00Z","end":"2023-06-11T12:00Z"},{"start":"2023-06-16T12:00Z","end":"2023-06-18T12:00Z"},{"start":"2023-06-23T12:00Z","end":"2023-06-25T12:00Z"},
{"start":"2023-06-30T12:00Z","end":"2023-07-02T12:00Z"},{"start":"2023-07-07T12:00Z","end":"2023-07-09T12:00Z"},{"start":"2023-07-14T12:00Z","end":"2023-07-16T12:00Z"},{"start":"2023-07-21T12:00Z","end":"2023-07-23T12:00Z"},{"start":"2023-07-28T12:00Z","end":"2023-07-30T12:00Z"},{"start":"2023-08-04T12:00Z","end":"2023-08-06T12:00Z"},{"start":"2023-08-11T12:00Z","end":"2023-08-13T12:00Z"},{"start":"2023-08-18T12:00Z","end":"2023-08-20T12:00Z"},{"start":"2023-08-25T12:00Z","end":"2023-08-28T12:00Z"}
], "format": {"parse": {"start": "date", "end": "date"}}},
"mark": {"type": "rect", "color": "#E6E6E6"},
"encoding": {
"x": {"field": "start", "type": "temporal",
"scale": {"type": "utc", "nice": false, "domain": [{"year": 2022, "month": 7, "date": 30, "hours": 18, "utc": true}, {"year": 2023, "month": 9, "date": 16, "utc": true}]},
"axis": {"orient": "bottom", "values": [{"year": 2022, "month": 9, "date": 1, "utc": true}, {"year": 2022, "month": 11, "date": 1, "utc": true}, {"year": 2023, "month": 1, "date": 1, "utc": true}, {"year": 2023, "month": 3, "date": 1, "utc": true}, {"year": 2023, "month": 5, "date": 1, "utc": true}, {"year": 2023, "month": 7, "date": 1, "utc": true}, {"year": 2023, "month": 9, "date": 1, "utc": true}],
"format": "%b %y", "labelFontSize": 20, "labelColor": "#333333", "labelPadding": 4, "labelOverlap": false, "labelFlush": false,
"tickSize": 6, "tickWidth": 2, "tickColor": "#000000", "domainColor": "#000000", "domainWidth": 2, "grid": false,
"title": ["Black line is 7 day moving average adjusted for bank holidays.", "Black dotted line is baseline. Grey columns show weekends and bank holidays."],
"titleFontSize": 23, "titleFontWeight": "normal", "titleColor": "#000000", "titleAlign": "right", "titleAnchor": "end", "titleBaseline": "alphabetic", "titleX": 1127, "titleY": 69, "titleLineHeight": 27}},
"x2": {"field": "end"}
}
},
{
"data": {"name": "daily"},
"mark": {"type": "line", "color": "#13889A", "strokeWidth": 1.8},
"encoding": {
"x": {"field": "date", "type": "temporal",
"scale": {"type": "utc", "nice": false, "domain": [{"year": 2022, "month": 7, "date": 30, "hours": 18, "utc": true}, {"year": 2023, "month": 9, "date": 16, "utc": true}]},
"axis": {"orient": "top", "domain": false, "ticks": false, "labels": false, "grid": false,
"title": "GP in-hours (TPP): chickenpox 31/07/2022 to 30/07/2023", "titleFontSize": 30, "titleFontWeight": "normal", "titleColor": "#000000", "titleAlign": "left", "titleAnchor": "start", "titleBaseline": "alphabetic", "titleX": -2, "titleY": -21}},
"y": {"field": "rate", "type": "quantitative", "title": "rate per 100,000 registered patients",
"scale": {"domain": [0, 1.0905], "nice": false},
"axis": {"values": [0, 0.25, 0.5, 0.75, 1], "format": ".2f"}}
}
},
{
"data": {"name": "ma"},
"mark": {"type": "line", "color": "#000000", "strokeWidth": 2.8},
"encoding": {
"x": {"field": "date", "type": "temporal", "scale": {"type": "utc", "nice": false, "domain": [{"year": 2022, "month": 7, "date": 30, "hours": 18, "utc": true}, {"year": 2023, "month": 9, "date": 16, "utc": true}]}, "axis": null},
"y": {"field": "ma", "type": "quantitative", "title": "rate per 100,000 registered patients", "scale": {"domain": [0, 1.0905], "nice": false},
"axis": {"values": [0, 0.25, 0.5, 0.75, 1], "format": ".2f"}}
}
},
{
"data": {"name": "baseline"},
"mark": {"type": "line", "color": "#000000", "strokeWidth": 2.6, "strokeDash": [2.5, 8]},
"encoding": {
"x": {"field": "date", "type": "temporal", "scale": {"type": "utc", "nice": false, "domain": [{"year": 2022, "month": 7, "date": 30, "hours": 18, "utc": true}, {"year": 2023, "month": 9, "date": 16, "utc": true}]}, "axis": null},
"y": {"field": "baseline", "type": "quantitative", "title": "rate per 100,000 registered patients", "scale": {"domain": [0, 1.0905], "nice": false},
"axis": {"values": [0, 0.25, 0.5, 0.75, 1], "format": ".2f"}}
}
}
],
"resolve": {"axis": {"x": "independent"}}
}
